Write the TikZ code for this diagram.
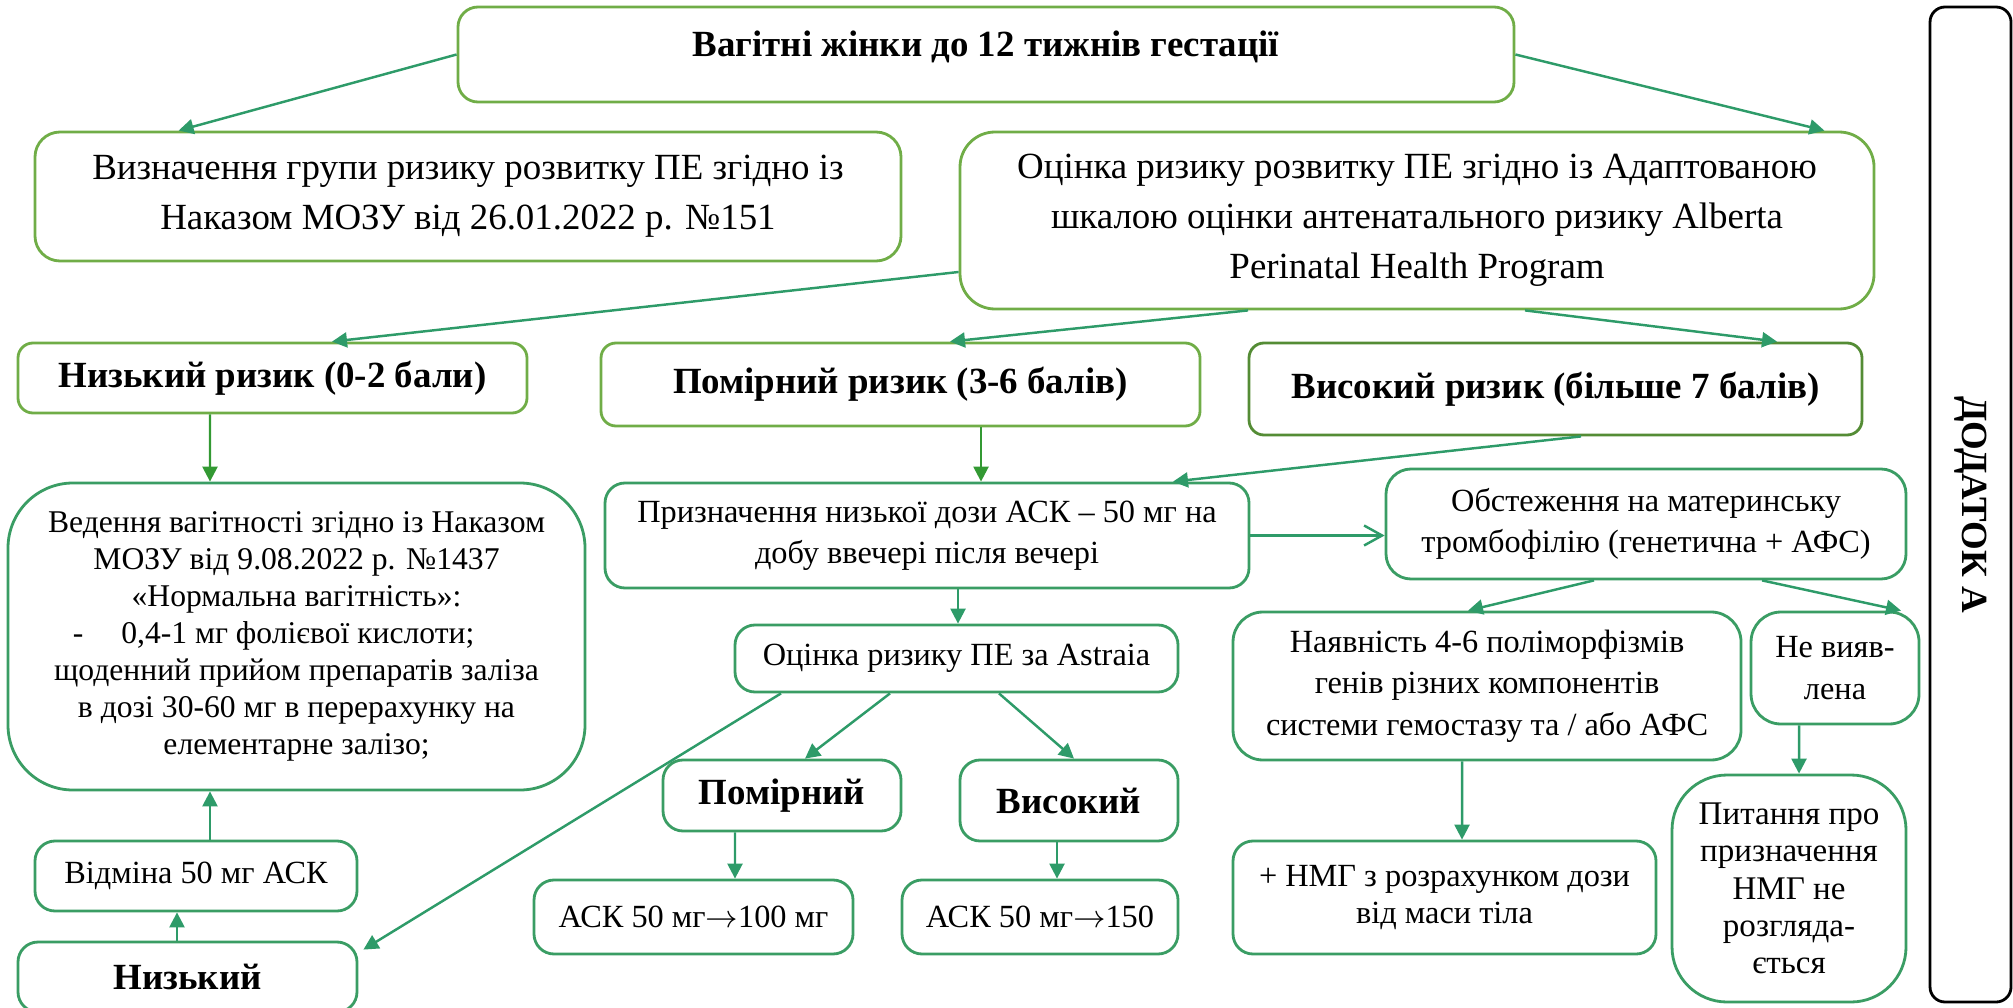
\documentclass[tikz,border=0pt]{standalone}
\usepackage{fontspec}
\setmainfont{Liberation Serif}
\usepackage{graphicx}
\usepackage{tikz}
\usetikzlibrary{arrows.meta}
\definecolor{leafgreen}{RGB}{112,173,71}
\definecolor{darkleaf}{RGB}{84,140,53}
\definecolor{seagreen}{RGB}{58,157,100}
\definecolor{arrowgreen}{RGB}{46,155,105}
\definecolor{grassgreen}{RGB}{51,153,51}
\newcommand{\bigtext}{\fontsize{10.5pt}{14.2pt}\selectfont}
\newcommand{\smalltext}{\fontsize{9.2pt}{11.8pt}\selectfont}
\newcommand{\caretext}{\fontsize{9pt}{10.5pt}\selectfont}
\newcommand{\notetext}{\fontsize{9.4pt}{10.6pt}\selectfont}
\tikzstyle{headbox} = [rectangle, rounded corners=0.2cm, line width=0.8pt, draw=leafgreen, inner sep=1pt, text centered, align=center, font=\bigtext]
\tikzstyle{stepbox} = [rectangle, rounded corners=0.2cm, line width=0.8pt, draw=seagreen, inner sep=1pt, text centered, align=center, font=\smalltext]
\tikzstyle{arrow} = [line width=0.7pt, draw=arrowgreen, -{Triangle[length=0.15cm, width=0.15cm]}]
\tikzstyle{greenarrow} = [arrow, draw=grassgreen]
\tikzstyle{openarrow} = [line width=0.7pt, draw=arrowgreen, -{Straight Barb[length=0.18cm, width=0.2cm]}]

\begin{document}
\begin{tikzpicture}[node distance=1cm]
\useasboundingbox (0,0) rectangle (20.13,-10.08);
% NODES
\node (pregnant) [headbox, minimum width=10.56cm, minimum height=0.95cm, text depth=0.22cm] at (9.86,-0.545) {\textbf{Вагітні жінки до 12 тижнів гестації}};
\node (order151) [headbox, below of=pregnant, xshift=-5.18cm, yshift=-0.42cm, minimum width=8.66cm, minimum height=1.29cm, rounded corners=0.25cm] {Визначення групи ризику розвитку ПЕ згідно із\\ Наказом МОЗУ від 26.01.2022 р. №151};
\node (alberta) [headbox, below of=pregnant, xshift=4.31cm, yshift=-0.66cm, minimum width=9.14cm, minimum height=1.77cm, rounded corners=0.35cm] {Оцінка ризику розвитку ПЕ згідно із Адаптованою\\ шкалою оцінки антенатального ризику Alberta\\ Perinatal Health Program};

\node (low-risk) [headbox, below of=order151, xshift=-1.955cm, yshift=-0.815cm, minimum width=5.09cm, minimum height=0.70cm, rounded corners=0.15cm] {\textbf{Низький ризик (0-2 бали)}};
\node (mid-risk) [headbox, below of=alberta, xshift=-5.165cm, yshift=-0.64cm, minimum width=5.99cm, minimum height=0.83cm, rounded corners=0.15cm] {\textbf{Помірний ризик (3-6 балів)}};
\node (high-risk) [headbox, draw=darkleaf, below of=alberta, xshift=1.385cm, yshift=-0.685cm, minimum width=6.13cm, minimum height=0.92cm, rounded corners=0.15cm] {\textbf{Високий ризик (більше 7 балів)}};

\node (care) [stepbox, below of=low-risk, xshift=0.24cm, yshift=-1.585cm, minimum width=5.77cm, minimum height=3.07cm, rounded corners=0.65cm, font=\caretext] {Ведення вагітності згідно із Наказом\\ МОЗУ від 9.08.2022 р. №1437\\ «Нормальна вагітність»:\\ -\hspace{1.2em}0,4-1 мг фолієвої кислоти;\hspace{1.45em}\null\\ щоденний прийом препаратів заліза\\ в дозі 30-60 мг в перерахунку на\\ елементарне залізо;};
\node (cancel) [stepbox, below of=care, xshift=-1.005cm, yshift=-1.395cm, minimum width=3.22cm, minimum height=0.70cm] {Відміна 50 мг АСК};
\node (astraia-low) [stepbox, below of=cancel, xshift=-0.085cm, yshift=-0.01cm, minimum width=3.39cm, minimum height=0.70cm, font=\bigtext\bfseries] {Низький};

\node (aspirin) [stepbox, below of=mid-risk, xshift=0.265cm, yshift=-0.51cm, minimum width=6.44cm, minimum height=1.05cm] {Призначення низької дози АСК – 50 мг на\\ добу ввечері після вечері};
\node (astraia) [stepbox, below of=aspirin, xshift=0.295cm, yshift=-0.23cm, minimum width=4.43cm, minimum height=0.67cm] {Оцінка ризику ПЕ за Astraia};
\node (astraia-mid) [stepbox, below of=astraia, xshift=-1.745cm, yshift=-0.37cm, minimum width=2.38cm, minimum height=0.71cm, font=\bigtext\bfseries] {Помірний};
\node (astraia-high) [stepbox, below of=astraia, xshift=1.125cm, yshift=-0.42cm, minimum width=2.18cm, minimum height=0.81cm, font=\bigtext\bfseries] {Високий};
\node (dose-100) [stepbox, below of=astraia-mid, xshift=-0.885cm, yshift=-0.215cm, minimum width=3.19cm, minimum height=0.74cm] {АСК 50 мг$\rightarrow$100 мг};
\node (dose-150) [stepbox, below of=astraia-high, xshift=-0.29cm, yshift=-0.165cm, minimum width=2.76cm, minimum height=0.74cm] {АСК 50 мг$\rightarrow$150};

\node (thrombo) [stepbox, right of=aspirin, xshift=6.19cm, yshift=0.115cm, minimum width=5.20cm, minimum height=1.10cm, rounded corners=0.25cm] {Обстеження на материнську\\ тромбофілію (генетична + АФС)};
\node (polymorph) [stepbox, below of=thrombo, xshift=-1.59cm, yshift=-0.62cm, minimum width=5.08cm, minimum height=1.48cm, rounded corners=0.3cm] {Наявність 4-6 поліморфізмів\\ генів різних компонентів\\ системи гемостазу та / або АФС};
\node (not-found) [stepbox, below of=thrombo, xshift=1.89cm, yshift=-0.44cm, minimum width=1.68cm, minimum height=1.12cm, rounded corners=0.3cm] {Не вияв-\\лена};
\node (lmwh) [stepbox, below of=polymorph, xshift=-0.425cm, yshift=-1.115cm, minimum width=4.23cm, minimum height=1.13cm, font=\fontsize{9.2pt}{10.4pt}\selectfont] {+ НМГ з розрахунком дози\\ від маси тіла};
\node (no-lmwh) [stepbox, below of=not-found, xshift=-0.46cm, yshift=-1.205cm, minimum width=2.34cm, minimum height=2.27cm, rounded corners=0.55cm, font=\notetext] {Питання про\\ призначення\\ НМГ не\\ розгляда-\\ється};

\node (annex) [rectangle, rounded corners=0.15cm, draw=black, line width=0.8pt, right of=pregnant, xshift=8.845cm, yshift=-4.5cm, minimum width=0.81cm, minimum height=9.95cm, font=\bigtext\bfseries] {\rotatebox{-90}{ДОДАТОК А}};

% ARROWS
\draw [arrow] (pregnant.west) -- ([xshift=1.45cm]order151.north west);
\draw [arrow] (pregnant.east) -- ([xshift=-0.51cm]alberta.north east);

\draw [arrow] ([yshift=-0.515cm]alberta.west) -- ([xshift=0.595cm]low-risk.north);
\draw [arrow] ([xshift=-1.69cm]alberta.south) -- ([xshift=0.495cm]mid-risk.north);
\draw [arrow] ([xshift=1.08cm]alberta.south) -- ([xshift=2.215cm]high-risk.north);

\draw [greenarrow] ([xshift=-0.625cm]low-risk.south) -- ([xshift=-0.865cm]care.north);
\draw [greenarrow] ([xshift=0.805cm]mid-risk.south) -- ([xshift=0.54cm]aspirin.north);
\draw [arrow] ([xshift=0.255cm]high-risk.south) -- ([xshift=2.46cm]aspirin.north);

\draw [openarrow] (aspirin.east) -- ([yshift=-0.115cm]thrombo.west);
\draw [arrow] ([xshift=0.31cm]aspirin.south) -- ([xshift=0.015cm]astraia.north);

\draw [arrow] ([xshift=-0.665cm]astraia.south) -- ([xshift=0.23cm]astraia-mid.north);
\draw [arrow] ([xshift=0.425cm]astraia.south) -- ([xshift=0.05cm]astraia-high.north);
\draw [arrow] ([xshift=-1.755cm]astraia.south) -- ([xshift=0.05cm, yshift=-0.09cm]astraia-low.north east);
\draw [arrow] ([xshift=-0.47cm]astraia-mid.south) -- ([xshift=0.415cm]dose-100.north);
\draw [arrow] ([xshift=-0.12cm]astraia-high.south) -- ([xshift=0.17cm]dose-150.north);

\draw [arrow] ([xshift=-0.105cm]astraia-low.north) -- ([xshift=-0.19cm]cancel.south);
\draw [arrow] ([xshift=0.14cm]cancel.north) -- ([xshift=-0.865cm]care.south);

\draw [arrow] ([xshift=-0.52cm]thrombo.south) -- ([xshift=-0.19cm]polymorph.north);
\draw [arrow] ([xshift=1.16cm]thrombo.south) -- ([xshift=0.66cm]not-found.north);
\draw [arrow] ([xshift=-0.25cm]polymorph.south) -- ([xshift=0.175cm]lmwh.north);
\draw [arrow] ([xshift=-0.36cm]not-found.south) -- ([xshift=0.10cm]no-lmwh.north);
\end{tikzpicture}
\end{document}
